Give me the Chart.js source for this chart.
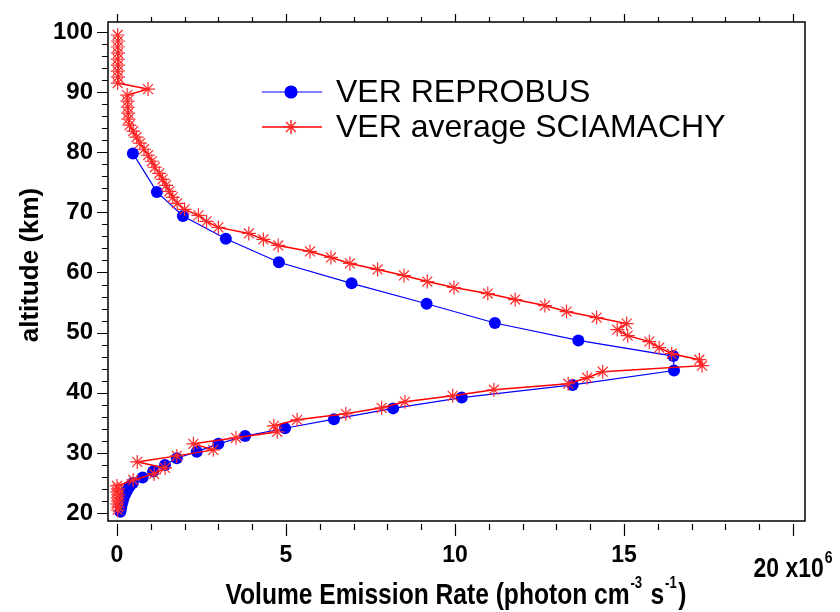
<!DOCTYPE html>
<html>
<head>
<meta charset="utf-8">
<script src="https://cdn.jsdelivr.net/npm/chart.js@4/dist/chart.umd.min.js"></script>
<style>html,body{margin:0;padding:0;background:#fff}canvas{display:block}</style>
</head>
<body>
<canvas id="c" width="840" height="612"></canvas>
<script>
// ---- data ----
const blueLabel = 'VER REPROBUS';
const redLabel = 'VER average SCIAMACHY';

const blueAlt = [79.8, 73.4, 69.4, 65.6, 61.7, 58.2, 54.8, 51.6, 48.7, 46.1, 43.7, 41.3, 39.2, 37.4, 35.6, 34.1, 32.8, 31.5, 30.2, 29.1, 28.0, 26.9, 25.9, 25.0, 24.4, 23.8, 23.2, 22.6, 22.0, 21.4, 20.8, 20.2];
const blueVal = [0.47, 1.18, 1.95, 3.22, 4.79, 6.94, 9.16, 11.18, 13.65, 16.46, 16.48, 13.48, 10.2, 8.17, 6.42, 4.97, 3.79, 3.0, 2.36, 1.77, 1.42, 1.07, 0.76, 0.47, 0.37, 0.3, 0.25, 0.2, 0.17, 0.14, 0.12, 0.1];

const redAlt = [99.5, 98.5, 97.5, 96.5, 95.5, 94.5, 93.5, 92.5, 91.5, 90.5, 89.5, 88.5, 87.5, 86.5, 85.5, 84.5, 83.5, 82.5, 81.5, 80.5, 79.5, 78.5, 77.5, 76.5, 75.5, 74.5, 73.5, 72.5, 71.5, 70.5, 69.5, 68.5, 67.5, 66.5, 65.5, 64.5, 63.5, 62.5, 61.5, 60.5, 59.5, 58.5, 57.5, 56.5, 55.5, 54.5, 53.5, 52.5, 51.5, 50.5, 49.5, 48.5, 47.5, 46.5, 45.5, 44.5, 43.5, 42.5, 41.5, 40.5, 39.5, 38.5, 37.5, 36.5, 35.5, 34.5, 33.5, 32.5, 31.5, 30.5, 29.5, 28.5, 27.5, 26.5, 25.5, 24.5, 24.0, 23.5, 23.0, 22.5, 22.0, 21.5, 21.0, 20.5];
const redVal = [0.02, 0.03, 0.02, 0.03, 0.02, 0.03, 0.02, 0.03, 0.02, 0.92, 0.30, 0.31, 0.32, 0.33, 0.34, 0.37, 0.48, 0.58, 0.68, 0.80, 0.92, 1.03, 1.12, 1.25, 1.35, 1.45, 1.55, 1.65, 1.78, 2.0, 2.41, 2.65, 3.0, 3.9, 4.33, 4.77, 5.71, 6.33, 6.89, 7.71, 8.49, 9.18, 9.97, 10.97, 11.78, 12.66, 13.30, 14.19, 15.08, 14.80, 15.11, 15.75, 16.04, 16.41, 17.23, 17.31, 14.37, 13.91, 13.35, 11.15, 9.93, 8.52, 7.83, 6.77, 5.33, 4.64, 4.74, 3.52, 2.26, 2.85, 1.77, 0.60, 1.42, 1.10, 0.48, 0.0, 0.03, 0.01, 0.04, 0.02, 0.03, 0.0, 0.03, 0.02];

const xTicks = [0, 5, 10, 15, 20];
const yTicks = [20, 30, 40, 50, 60, 70, 80, 90, 100];
const xTitle = ['Volume Emission Rate (photon cm', '-3', ' s', '-1', ')'];
const yTitle = 'altitude (km)';
const xMultiplier = ['20 x10', '6'];

// ---- font helpers ----
function hasFont(name) {
  const c = document.createElement('canvas').getContext('2d');
  c.font = '40px monospace';
  const w1 = c.measureText('Volume Emission 0123').width;
  c.font = '40px "' + name + '", monospace';
  const w2 = c.measureText('Volume Emission 0123').width;
  return Math.abs(w1 - w2) > 0.5;
}
const NARROW = hasFont('Liberation Sans Narrow');
const narrowFam = NARROW ? '"Liberation Sans Narrow"' : '"Liberation Sans", Arial';
const narrowScale = NARROW ? 1 : 0.82;

const toPts = (xs, ys) => xs.map((v, i) => ({ x: v, y: ys[i] }));

const decor = {
  id: 'decor',
  afterDraw(chart) {
    const { ctx, chartArea: a } = chart;
    const x = chart.scales.x, y = chart.scales.y;
    ctx.save();
    ctx.strokeStyle = '#000';
    ctx.lineWidth = 1.5;
    ctx.strokeRect(a.left, a.top, a.right - a.left, a.bottom - a.top);
    ctx.lineWidth = 1.2;
    ctx.beginPath();
    for (let v = yTicks[0]; v <= yTicks[yTicks.length - 1]; v += 2) {
      const py = Math.round(y.getPixelForValue(v)) + 0.5;
      const len = (v % 10 === 0) ? 11 : 6;
      ctx.moveTo(a.left - len, py); ctx.lineTo(a.left, py);
    }
    for (let v = xTicks[0]; v <= xTicks[xTicks.length - 1]; v += 1) {
      const px = Math.round(x.getPixelForValue(v)) + 0.5;
      const major = v % 5 === 0;
      ctx.moveTo(px, a.bottom + 3); ctx.lineTo(px, a.bottom + (major ? 15 : 9));
      ctx.moveTo(px, a.top); ctx.lineTo(px, a.top - (major ? 8 : 5));
    }
    ctx.stroke();

    ctx.fillStyle = '#000';
    // x multiplier label at the last tick
    {
      const px = x.getPixelForValue(20);
      const fMain = 'bold 28px ' + narrowFam, fSup = 'bold 17px ' + narrowFam;
      ctx.font = fMain; const w1 = ctx.measureText(xMultiplier[0]).width * narrowScale;
      ctx.font = fSup; const w2 = ctx.measureText(xMultiplier[1]).width * narrowScale;
      const x0 = px - (w1 + w2 + 1) / 2;
      ctx.textBaseline = 'alphabetic'; ctx.textAlign = 'left';
      ctx.save(); ctx.translate(x0, 577); ctx.scale(narrowScale, 1);
      ctx.font = fMain; ctx.fillText(xMultiplier[0], 0, 0);
      ctx.font = fSup; ctx.fillText(xMultiplier[1], (w1 + 1) / narrowScale, -14);
      ctx.restore();
    }
    // x title with superscripts
    {
      const fMain = 'bold 30px ' + narrowFam, fSup = 'bold 16px ' + narrowFam;
      const parts = xTitle.map((t, i) => ({ t, sup: i === 1 || i === 3 }));
      let total = 0;
      parts.forEach(p => { ctx.font = p.sup ? fSup : fMain; p.w = ctx.measureText(p.t).width; total += p.w + (p.sup ? 3 : 0); });
      const cx = 456;
      ctx.save();
      ctx.translate(cx - total * narrowScale / 2, 604);
      ctx.scale(narrowScale, 1);
      let xx = 0;
      parts.forEach(p => {
        ctx.font = p.sup ? fSup : fMain;
        if (p.sup) { ctx.fillText(p.t, xx + 1, -16); xx += p.w + 3; }
        else { ctx.fillText(p.t, xx, 0); xx += p.w; }
      });
      ctx.restore();
    }
    // y title
    ctx.save();
    ctx.translate(38, 265);
    ctx.rotate(-Math.PI / 2);
    ctx.font = 'bold 26px "Liberation Sans", Arial';
    ctx.textAlign = 'center'; ctx.textBaseline = 'alphabetic';
    ctx.fillText(yTitle, 0, 0);
    ctx.restore();

    // legend
    const items = [chart.data.datasets[1], chart.data.datasets[0]];
    const rows = [92, 127];
    items.forEach((ds, i) => {
      const yy = rows[i];
      ctx.strokeStyle = ds.borderColor; ctx.lineWidth = ds.borderWidth;
      ctx.beginPath(); ctx.moveTo(262, yy); ctx.lineTo(322, yy); ctx.stroke();
      ctx.strokeStyle = ds.pointBorderColor || ds.borderColor;
      ctx.fillStyle = ds.backgroundColor;
      Chart.helpers.drawPoint(ctx, { pointStyle: ds.pointStyle, radius: ds.pointRadius, borderWidth: ds.pointBorderWidth || 1, rotation: 0 }, 291, yy);
      if (ds.pointStyle === 'circle') { ctx.beginPath(); ctx.arc(291, yy, ds.pointRadius, 0, Math.PI * 2); ctx.fill(); }
      ctx.fillStyle = '#000';
      ctx.font = '32px "Liberation Sans", Arial';
      ctx.textAlign = 'left'; ctx.textBaseline = 'middle';
      ctx.fillText(ds.label, 336, yy + 1);
    });
    ctx.restore();
  }
};

new Chart(document.getElementById('c'), {
  type: 'scatter',
  data: {
    datasets: [
      { label: redLabel, data: toPts(redVal, redAlt), showLine: true, borderColor: '#ff0000', backgroundColor: '#ff0000',
        borderWidth: 1.5, pointStyle: 'star', pointRadius: 7, pointBorderWidth: 1.2, pointBorderColor: '#ff2a2a', order: 0 },
      { label: blueLabel, data: toPts(blueVal, blueAlt), showLine: true, borderColor: '#0000ff', backgroundColor: '#0000ff',
        borderWidth: 1.2, pointStyle: 'circle', pointRadius: 6, pointBorderWidth: 0, order: 1 }
    ]
  },
  options: {
    responsive: false, animation: false,
    layout: { padding: { top: 22, right: 35, left: 0, bottom: 0 } },
    plugins: { legend: { display: false }, tooltip: { enabled: false } },
    scales: {
      x: {
        type: 'linear', position: 'bottom', min: -0.266, max: 20.355,
        afterBuildTicks: s => { s.ticks = xTicks.map(v => ({ value: v })); },
        afterFit: s => { s.height = 91; },
        grid: { display: true, drawOnChartArea: false, drawTicks: true, tickLength: 15, color: 'rgba(0,0,0,0)' },
        border: { display: false },
        ticks: { color: '#000', padding: 6, maxRotation: 0, autoSkip: false,
          font: { family: NARROW ? 'Liberation Sans Narrow' : 'Liberation Sans', weight: 'bold', size: NARROW ? 27 : 23 },
          callback: v => (v === 20 ? '' : String(v)) }
      },
      y: {
        type: 'linear', position: 'left', min: 18.67, max: 101.66,
        afterBuildTicks: s => { s.ticks = yTicks.map(v => ({ value: v })); },
        afterFit: s => { s.width = 108; },
        grid: { display: true, drawOnChartArea: false, drawTicks: true, tickLength: 10, color: 'rgba(0,0,0,0)' },
        border: { display: false },
        ticks: { color: '#000', padding: 5, autoSkip: false,
          font: { family: 'Liberation Sans', weight: 'bold', size: 24 },
          callback: v => String(v) }
      }
    }
  },
  plugins: [decor]
});
</script>
</body>
</html>
